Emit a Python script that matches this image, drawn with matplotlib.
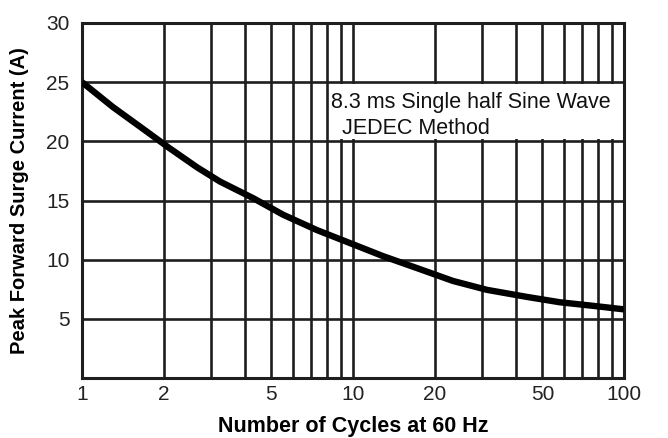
import matplotlib
matplotlib.use("Agg")
import matplotlib.pyplot as plt
from matplotlib.patches import Rectangle

# Data
cycles = [1.00, 1.30, 1.74, 2.08, 2.66, 3.23, 4.28, 5.52, 7.36, 9.75,
          12.9, 17.4, 23.4, 31.2, 43.9, 58.0, 76.8, 100.0]
surge_current = [25.0, 22.9, 20.8, 19.5, 17.8, 16.6, 15.2, 13.8, 12.5, 11.4,
                 10.3, 9.25, 8.2, 7.45, 6.85, 6.4, 6.1, 5.8]

x_tick_values = [1, 2, 5, 10, 20, 50, 100]
x_tick_labels = ["1", "2", "5", "10", "20", "50", "100"]
x_grid_values = [1, 2, 3, 4, 5, 6, 7, 8, 9, 10, 20, 30, 40, 50, 60, 70, 80, 90, 100]
y_tick_values = [5, 10, 15, 20, 25, 30]
y_tick_labels = ["5", "10", "15", "20", "25", "30"]

annotation_lines = ["8.3 ms Single half Sine Wave", "JEDEC Method"]

plt.rcParams['font.family'] = ['Liberation Sans', 'DejaVu Sans']

fig = plt.figure(figsize=(6.68, 4.38), dpi=100)
ax = fig.add_axes([82/668, 1-378/438, (624-82)/668, (378-23)/438])

line_color = '#1e1e1e'
grid_lw = 1.9

ax.set_xscale('log')
ax.set_xlim(1, 100)
ax.set_ylim(0, 30)

# grid lines
for xv in x_grid_values:
    ax.axvline(xv, color=line_color, lw=grid_lw, zorder=1)
for yv in y_tick_values:
    ax.axhline(yv, color=line_color, lw=grid_lw, zorder=1)

ax.set_xticks(x_tick_values)
ax.set_xticklabels(x_tick_labels)
ax.set_xticks([], minor=True)
ax.set_yticks(y_tick_values)
ax.set_yticklabels(y_tick_labels)
ax.tick_params(axis='both', which='both', length=0, labelsize=15, colors='#222222')
ax.tick_params(axis='x', pad=5)
ax.tick_params(axis='y', pad=9)

for sp in ax.spines.values():
    sp.set_color(line_color)
    sp.set_linewidth(2.2)
    sp.set_zorder(3)

# white box behind annotation
ax.add_patch(Rectangle((0.463, 0.672), 0.537, 0.156, transform=ax.transAxes,
                       facecolor='white', edgecolor='none', zorder=2))

ax.plot(cycles, surge_current, color='black', lw=4.6, zorder=4,
        solid_capstyle='butt', solid_joinstyle='round')

ax.text(0.460, 0.775, annotation_lines[0], transform=ax.transAxes,
        fontsize=15.5, va='center', ha='left', color='#111111', zorder=5)
ax.text(0.480, 0.703, annotation_lines[1], transform=ax.transAxes,
        fontsize=15.5, va='center', ha='left', color='#111111', zorder=5)

ax.set_xlabel("Number of Cycles at 60 Hz", fontsize=15.5, fontweight='bold',
              labelpad=9)
ax.set_ylabel("Peak Forward Surge Current (A)", fontsize=14.5, fontweight='bold',
              labelpad=12)

fig.savefig("out.png", dpi=100)
